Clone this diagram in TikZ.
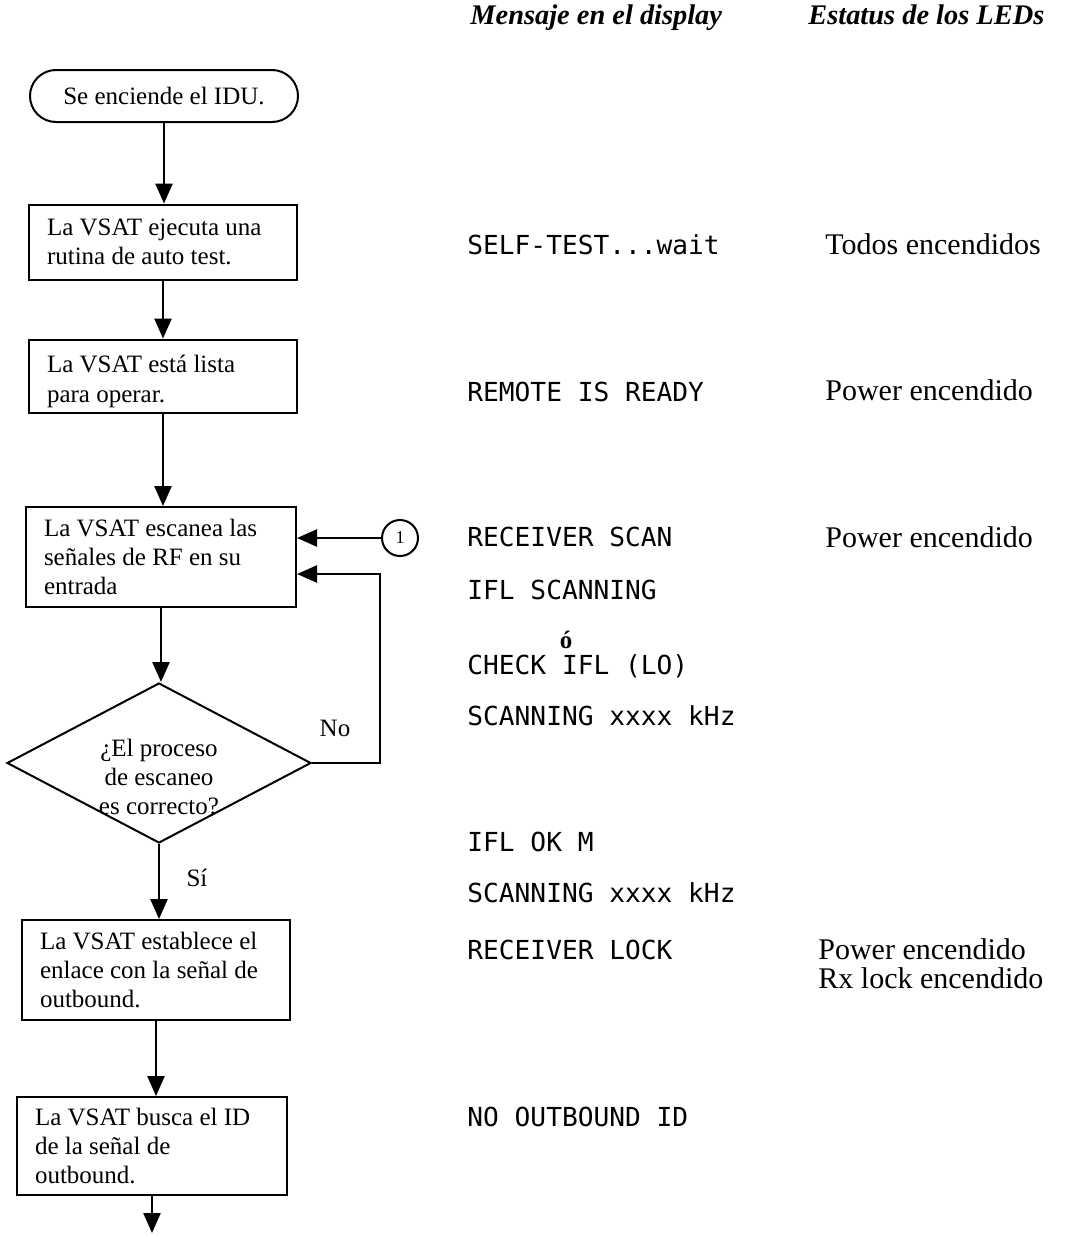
\documentclass[tikz,border=0pt]{standalone}
\usepackage{fontspec}
\setmainfont{Liberation Serif}
\setmonofont{DejaVu Sans Mono}
\usepackage{tikz}
\usetikzlibrary{shapes,arrows.meta}

\begin{document}
\begin{tikzpicture}[x=0.5pt,y=-0.5pt,
		every node/.style={font=\fontsize{12.5}{14.7}\selectfont},
		proc/.style={draw,line width=1pt,align=flush left,inner xsep=9pt,inner ysep=0pt,text width=116pt},
		term/.style={draw,line width=1pt,rounded corners=13pt,minimum width=134pt,minimum height=26pt},
		decision/.style={draw,line width=1pt,diamond,inner sep=0pt,minimum width=152pt,minimum height=80pt},
		conn/.style={draw,circle,line width=1pt,minimum size=18pt,inner sep=0pt,font=\fontsize{9}{10}\selectfont},
		flow/.style={line width=1.2pt,-{Triangle[length=10pt,width=8.5pt]}},
		msg/.style={anchor=mid west,inner sep=0pt,font=\fontsize{13.1}{15}\ttfamily},
		led/.style={anchor=mid west,inner sep=0pt,align=left,font=\fontsize{15}{14.6}\selectfont},
		head/.style={anchor=mid west,inner sep=0pt,font=\fontsize{14.2}{16}\bfseries\itshape}]
		\useasboundingbox (0,0) rectangle (1082,1237);
		% column titles
		\node[head] (hmsg) at (470,20) {Mensaje en el display};
		\node[head] (hled) at (808,20) {Estatus de los LEDs};
		% flow chart
		\node[term] (start) at (164,96) {Se enciende el IDU.};
		\node[proc,minimum height=37.5pt] (selftest) at (163,242) {La VSAT ejecuta una\\rutina de auto test.};
		\node[proc,minimum height=36.5pt] (ready) at (163,376) {\rule{0pt}{14pt}La VSAT está lista\\para operar.};
		\node[proc,minimum height=50pt,text width=117pt] (scan) at (161,557) {La VSAT escanea las\\señales de RF en su\\entrada};
		\node[conn] (one) at (400,538) {1};
		\node[decision] (check) at (159,763) {};
		\node[align=center,inner sep=0pt] (checktxt) at (159,777) {¿El proceso\\de escaneo\\es correcto?};
		\node[inner sep=0pt] (no) at (335,728) {No};
		\node[inner sep=0pt] (si) at (197,878) {Sí};
		\node[proc,minimum height=50pt,text width=116pt] (lock) at (156,970) {La VSAT establece el\\enlace con la señal de\\outbound.};
		\node[proc,minimum height=49pt,text width=117pt] (outid) at (152,1146) {La VSAT busca el ID\\de la señal de\\outbound.};
		\coordinate (loop) at (380,574);
		\coordinate (next) at (152,1233);
		\draw[flow] (start.south) -- (start.south |- selftest.north);
		\draw[flow] (selftest.south) -- (selftest.south |- ready.north);
		\draw[flow] (ready.south) -- (ready.south |- scan.north);
		\draw[flow] (one.west) -- (scan.east |- one.west);
		\draw[flow] (check.east) -| (loop) -- (scan.east |- loop);
		\draw[flow] (scan.south) -- (scan.south |- check.north);
		\draw[flow] (check.south) -- (check.south |- lock.north);
		\draw[flow] (lock.south) -- (lock.south |- outid.north);
		\draw[flow] (outid.south) -- (next);
		% display messages
		\node[msg] (m1) at (467,250) {SELF-TEST...wait};
		\node[msg] (m2) at (467,397) {REMOTE IS READY};
		\node[msg] (m3) at (467,542) {RECEIVER SCAN};
		\node[msg] (m4) at (467,595) {IFL SCANNING};
		\node[inner sep=0pt,font=\fontsize{12.5}{14}\bfseries] (o) at (566,640) {ó};
		\node[msg] (m5) at (467,670) {CHECK IFL (LO)};
		\node[msg] (m6) at (467,721) {SCANNING xxxx kHz};
		\node[msg] (m7) at (467,847) {IFL OK M};
		\node[msg] (m8) at (467,898) {SCANNING xxxx kHz};
		\node[msg] (m9) at (467,955) {RECEIVER LOCK};
		\node[msg] (m10) at (467,1122) {NO OUTBOUND ID};
		% LED status
		\node[led] (l1) at (825,250) {Todos encendidos};
		\node[led] (l2) at (825,396) {Power encendido};
		\node[led] (l3) at (825,543) {Power encendido};
		\node[led] (l4) at (818,955) {Power encendido};
		\node[led] (l5) at (818,984) {Rx lock encendido};
\end{tikzpicture}
\end{document}
